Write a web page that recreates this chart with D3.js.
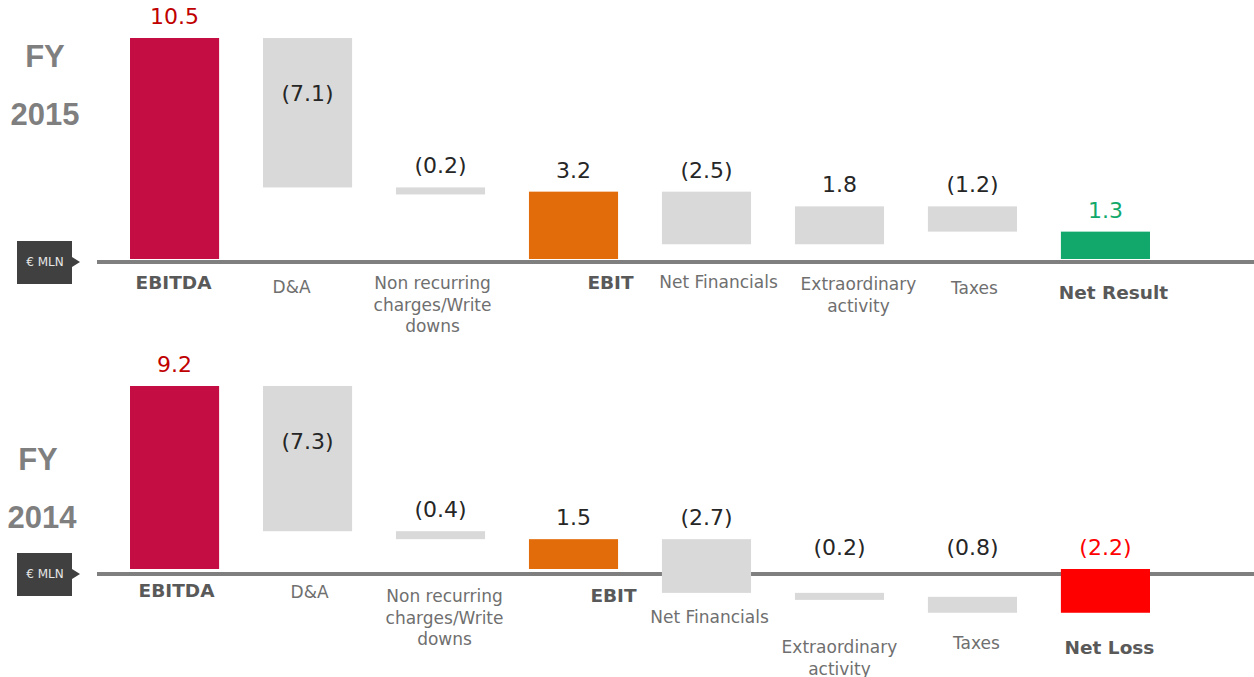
<!DOCTYPE html>
<html lang="en">
<head>
<meta charset="utf-8">
<script src="https://d3js.org/d3.v7.min.js"></script>
<style>
  body { margin: 0; background: #fff; }
  svg { display: block; }
</style>
<title>FY 2015 vs FY 2014 waterfall</title>
</head>
<body>
<div id="chart"></div>
<script>
// Data
var categories2015 = ["EBITDA", "D&A", "Non recurring\ncharges/Write\ndowns", "EBIT", "Net Financials", "Extraordinary\nactivity", "Taxes", "Net Result"];
var categories2014 = ["EBITDA", "D&A", "Non recurring\ncharges/Write\ndowns", "EBIT", "Net Financials", "Extraordinary\nactivity", "Taxes", "Net Loss"];
var values2015 = [10.5, -7.1, -0.2, 3.2, -2.5, 1.8, -1.2, 1.3];
var values2014 = [9.2, -7.3, -0.4, 1.5, -2.7, -0.2, -0.8, -2.2];
var stepTypes = ["total", "delta", "delta", "total", "delta", "delta", "delta", "total"];

// Layout: label offsets (dx from band centre, dy from zero line) per panel
var labelPos2015 = [[-1, 21], [-16, 25], [-8, 21], [37, 21], [12, 20], [19, 22], [2, 26], [8, 31]];
var labelPos2014 = [[2, 17], [2, 18], [4, 22], [40, 22], [3, 43], [0, 73], [4, 69], [4, 74]];

var W = 1254, H = 677;
var svg = d3.select("#chart").append("svg").attr("width", W).attr("height", H);

var x = d3.scaleBand()
  .domain(d3.range(8))
  .range([130, 1150])
  .paddingInner(0.33)
  .paddingOuter(0);

function fmt(v) {
  var s = Math.abs(v).toFixed(1);
  return v < 0 ? "(" + s + ")" : s;
}

function drawPanel(cfg) {
  var g = svg.append("g");
  var y = d3.scaleLinear().domain([0, cfg.max]).range([cfg.zeroY, cfg.topY]);

  // build waterfall steps
  var run = 0;
  var steps = cfg.values.map(function (v, i) {
    var start, end;
    if (stepTypes[i] === "total") { start = 0; end = v; run = v; }
    else { start = run; end = run + v; run = end; }
    return { i: i, v: v, start: start, end: end, type: stepTypes[i], cat: cfg.categories[i] };
  });

  // year title
  g.append("text").attr("x", cfg.titleX).attr("y", cfg.titleY)
    .attr("text-anchor", "middle")
    .style("font-family", "Liberation Sans, Arial, sans-serif")
    .style("font-weight", "bold").style("font-size", "31px")
    .attr("fill", "#7f7f7f").text("FY");
  g.append("text").attr("x", cfg.titleX + cfg.yearDx).attr("y", cfg.titleY + 58)
    .attr("text-anchor", "middle")
    .style("font-family", "Liberation Sans, Arial, sans-serif")
    .style("font-weight", "bold").style("font-size", "31px")
    .attr("fill", "#7f7f7f").text(cfg.year);

  // unit tag
  var ly = cfg.zeroY + cfg.lineDy;
  g.append("path")
    .attr("d", "M17," + (ly - 21) + "H72V" + (ly - 5) + "L80," + ly + "L72," + (ly + 5) + "V" + (ly + 22) + "H17Z")
    .attr("fill", "#404040");
  g.append("text").attr("x", 45).attr("y", ly + 4)
    .attr("text-anchor", "middle")
    .style("font-family", "DejaVu Sans, sans-serif").style("font-size", "12px")
    .attr("fill", "#e6e6e6").text("€ MLN");

  // axis line
  g.append("line").attr("x1", 97).attr("x2", W).attr("y1", ly).attr("y2", ly)
    .attr("stroke", "#7f7f7f").attr("stroke-width", 4);

  // bars
  var colorFor = function (d) {
    if (d.i === 0) return "#c40d42";
    if (d.i === 3) return "#e36c0a";
    if (d.i === 7) return d.v >= 0 ? "#13a86b" : "#ff0000";
    return "#d9d9d9";
  };
  g.selectAll(".bar").data(steps).enter().append("rect")
    .attr("class", "bar")
    .attr("x", function (d) { return x(d.i); })
    .attr("width", x.bandwidth())
    .attr("y", function (d) { return y(Math.max(d.start, d.end)); })
    .attr("height", function (d) { return Math.max(7, Math.abs(y(d.start) - y(d.end))); })
    .attr("fill", colorFor);

  // value labels (kept above the zero line)
  var valColor = function (d) {
    if (d.i === 0) return "#c00000";
    if (d.i === 7) return d.v >= 0 ? "#13a86b" : "#ff0000";
    return "#262626";
  };
  g.selectAll(".val").data(steps).enter().append("text")
    .attr("class", "val")
    .attr("x", function (d) { return x(d.i) + x.bandwidth() / 2; })
    .attr("y", function (d) {
      var top = Math.min(y(Math.max(d.start, d.end)), cfg.zeroY);
      return d.i === 1 ? top + 63 : top - 14;
    })
    .attr("text-anchor", "middle")
    .style("font-family", "DejaVu Sans, sans-serif").style("font-size", "22px")
    .attr("fill", valColor)
    .text(function (d) { return fmt(d.v); });

  // category labels
  var labels = g.selectAll(".cat").data(steps).enter().append("text")
    .attr("class", "cat")
    .attr("text-anchor", "middle")
    .attr("transform", function (d) {
      var p = cfg.labelPos[d.i];
      return "translate(" + (x(d.i) + x.bandwidth() / 2 + p[0]) + "," + (ly + p[1] + 6) + ")";
    })
    .style("font-family", "DejaVu Sans, sans-serif")
    .style("font-size", function (d) { return d.type === "total" ? "18.5px" : "17px"; })
    .style("font-weight", function (d) { return d.type === "total" ? "bold" : "normal"; })
    .attr("fill", function (d) { return d.type === "total" ? "#595959" : "#6f6f6f"; });
  labels.each(function (d) {
    var t = d3.select(this);
    d.cat.split("\n").forEach(function (line, k) {
      t.append("tspan").attr("x", 0).attr("y", k * 21.5).text(line);
    });
  });
}

drawPanel({
  year: "2015", categories: categories2015, values: values2015, labelPos: labelPos2015,
  max: 10.5, zeroY: 259, topY: 38, lineDy: 3, titleX: 45, titleY: 67, yearDx: 0
});
drawPanel({
  year: "2014", categories: categories2014, values: values2014, labelPos: labelPos2014,
  max: 9.2, zeroY: 569, topY: 386, lineDy: 5, titleX: 38, titleY: 470, yearDx: 4
});
</script>
</body>
</html>
